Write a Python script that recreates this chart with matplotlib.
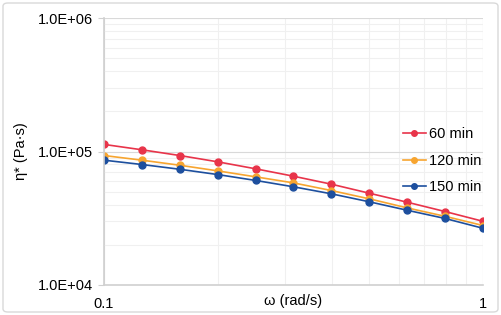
import numpy as np
import matplotlib
matplotlib.use('Agg')
import matplotlib.pyplot as plt
from matplotlib.patches import FancyBboxPatch
from matplotlib.ticker import FixedLocator, LogLocator, NullFormatter

plt.rcParams['font.family'] = ['Liberation Sans', 'DejaVu Sans']

omega = [0.1, 0.1259, 0.1585, 0.1995, 0.2512, 0.3162, 0.3981, 0.5012, 0.631, 0.7943, 1.0]
eta_60 = [1.13e5, 1.03e5, 9.33e4, 8.37e4, 7.42e4, 6.53e4, 5.69e4, 4.87e4, 4.17e4, 3.55e4, 3.00e4]
eta_120 = [9.33e4, 8.61e4, 7.89e4, 7.16e4, 6.46e4, 5.82e4, 5.10e4, 4.42e4, 3.78e4, 3.27e4, 2.79e4]
eta_150 = [8.61e4, 7.99e4, 7.36e4, 6.72e4, 6.07e4, 5.44e4, 4.82e4, 4.20e4, 3.63e4, 3.15e4, 2.66e4]
labels = ['60 min', '120 min', '150 min']
colors = ['#e8344a', '#f7a530', '#1d4f9e']

fig = plt.figure(figsize=(5.01, 3.15), dpi=100)
ax = fig.add_axes([104/501, 1 - 285/315, (483-104)/501, (285-18)/315])

fig.patches.append(FancyBboxPatch((3/501, 3/315), 495/501, 309/315,
                                  boxstyle='round,pad=0,rounding_size=0.01',
                                  transform=fig.transFigure, fill=False,
                                  edgecolor='#d9d9d9', linewidth=1.0))

for ys, lab, c in zip([eta_60, eta_120, eta_150], labels, colors):
    ax.plot(omega, ys, '-o', color=c, markersize=5, linewidth=1.2, label=lab)

ax.set_xscale('log')
ax.set_yscale('log')
ax.set_xlim(0.1, 1)
ax.set_ylim(1e4, 1e6)

ax.yaxis.set_major_locator(FixedLocator([1e4, 1e5, 1e6]))
ax.set_yticklabels(['1.0E+04', '1.0E+05', '1.0E+06'])
ax.xaxis.set_major_locator(FixedLocator([0.1, 1]))
ax.set_xticklabels(['0.1', '1'])
ax.xaxis.set_minor_locator(LogLocator(base=10, subs=np.arange(2, 10)))
ax.yaxis.set_minor_locator(LogLocator(base=10, subs=np.arange(2, 10)))
ax.xaxis.set_minor_formatter(NullFormatter())
ax.yaxis.set_minor_formatter(NullFormatter())

ax.grid(which='major', color='#d9d9d9', linewidth=0.8)
ax.grid(which='minor', color='#f0f0f0', linewidth=0.8)
ax.set_axisbelow(True)

for s in ['top', 'right']:
    ax.spines[s].set_visible(False)
for s in ['left', 'bottom']:
    ax.spines[s].set_color('#d0d0d0')
    ax.spines[s].set_linewidth(1.2)

ax.tick_params(which='major', axis='y', length=4, color='#d0d0d0', labelsize=10.5, pad=4)
ax.tick_params(which='major', axis='x', length=0, labelsize=10.5, pad=9)
ax.tick_params(which='minor', length=0)

ax.set_xlabel('ω (rad/s)', fontsize=10.5)
ax.xaxis.set_label_coords(0.5, -0.035)
ax.set_ylabel('η* (Pa·s)', fontsize=10.5)
ax.yaxis.set_label_coords(-0.2, 0.5)

ax.legend(loc='center right', bbox_to_anchor=(1.03, 0.465), frameon=False,
          fontsize=10.5, labelspacing=0.85, handlelength=1.6, handletextpad=0.2,
          markerscale=0.8)

fig.savefig('out.png', dpi=100)
